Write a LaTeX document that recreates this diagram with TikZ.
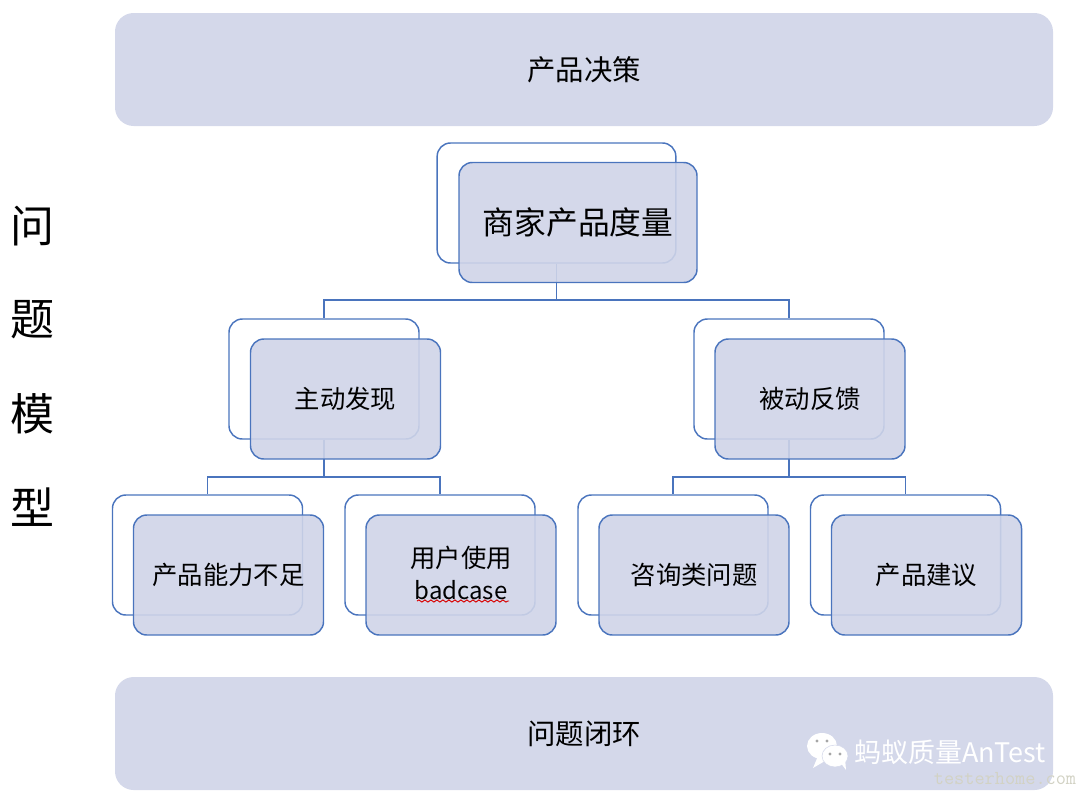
\documentclass[tikz,border=0pt]{standalone}
\usepackage{fontspec}
\setmainfont{Noto Sans CJK SC}
\usetikzlibrary{decorations.pathmorphing}
\definecolor{boxline}{HTML}{4A74BD}
\definecolor{boxfill}{HTML}{CFD4E8}
\definecolor{bandfill}{HTML}{D4D8EA}
\definecolor{stampgrey}{HTML}{D2D2C4}
\tikzset{
	band/.style = {fill = bandfill, rounded corners = 14pt, minimum width = 703.5pt, minimum height = 84.75pt, inner sep = 0, font = \fontsize{21.3}{25}\selectfont},
	backbox/.style = {draw = boxline, line width = 1.1pt, rounded corners = 10pt, minimum width = 142.5pt, minimum height = 90pt, inner sep = 0},
	frontbox/.style = {backbox, fill = boxfill, fill opacity = 0.9, text opacity = 1, align = center, font = \fontsize{19}{24}\selectfont},
	tie/.style = {draw = boxline, line width = 1.1pt},
	sidetext/.style = {font = \fontsize{33}{38}\selectfont, inner sep = 0}
}
\begin{document}
\begin{tikzpicture}[x = 0.75pt, y = -0.75pt]
	\useasboundingbox (0, 0) rectangle (1080, 801);

	\node [band] (top) at (584, 69.5) {产品决策};
	\node [band] (bottom) at (584, 733.5) {问题闭环};

	\foreach \y/\t in { 226/问, 320/题, 414/模, 507/型 } {
		\node [sidetext] (s\y) at (32, \y) {\t};
	}

	% back boxes first, the ties run under the front boxes
	\node [backbox, minimum width = 179pt] (b0) at (556.5, 203) {};
	\foreach \n/\x/\y in { 1/324/379, 2/789/379, 3/207.5/555, 4/440/555, 5/673/555, 6/905.5/555 } {
		\node [backbox] (b\n) at (\x, \y) {};
	}

	\coordinate (j0) at (b0.south |- 0, 300);
	\coordinate (j1) at (b1.south |- 0, 477);
	\coordinate (j2) at (b2.south |- 0, 477);
	\draw [tie] (b0.south) to (j0);
	\draw [tie] (j0) -| (b1.north);
	\draw [tie] (j0) -| (b2.north);
	\draw [tie] (b1.south) to (j1);
	\draw [tie] (j1) -| (b3.north);
	\draw [tie] (j1) -| (b4.north);
	\draw [tie] (b2.south) to (j2);
	\draw [tie] (j2) -| (b5.north);
	\draw [tie] (j2) -| (b6.north);

	\node [frontbox, minimum width = 178.5pt, font = \fontsize{23.8}{28}\selectfont] (f0) at (578, 222.5) {商家产品度量};
	\node [frontbox] (f1) at (345.5, 399) {\raisebox{1pt}{主动发现}};
	\node [frontbox] (f2) at (810, 399) {\raisebox{1pt}{被动反馈}};
	\node [frontbox] (f3) at (228.5, 575) {\raisebox{1pt}{产品能力不足}};
	\node [frontbox] (f4) at (461, 575) {};
	\node [frontbox] (f5) at (694, 575) {\raisebox{1pt}{咨询类问题}};
	\node [frontbox] (f6) at (926.5, 575) {\raisebox{1pt}{产品建议}};

	\node [font = \fontsize{19}{24}\selectfont, inner sep = 0] (t0) at (461, 558) {用户使用};
	\node [font = \fontsize{18}{24}\selectfont, inner sep = 0] (t1) at (461, 590) {badcase};
	\coordinate (w0) at (417, 601);
	\coordinate (w1) at (509, 601);
	\draw [red!85!black, line width = 0.7pt, decorate, decoration = {snake, amplitude = 0.8pt, segment length = 4.5pt}] (w0) to (w1);

	% stamp in the corner
	\fill [white] (822, 746) ellipse (15 and 13);
	\fill [white] (818, 756) -- (813, 768) -- (830, 758) -- cycle;
	\fill [white, draw = bandfill] (835, 756) ellipse (13 and 11);
	\fill [white] (840, 762) -- (846, 770) -- (845, 758) -- cycle;
	\foreach \x/\y in { 817/741, 827/741, 830/754, 840/754 } {
		\fill [gray!70] (\x, \y) circle (1.6);
	}
	\node [text = white, font = \fontsize{20.2}{22}\selectfont, inner sep = 0] (mark) at (950, 752) {蚂蚁质量AnTest};
	\node [text = stampgrey, font = \fontsize{14.8}{16}\ttfamily, inner sep = 0] (site) at (1005, 779) {testerhome.com};
\end{tikzpicture}
\end{document}
